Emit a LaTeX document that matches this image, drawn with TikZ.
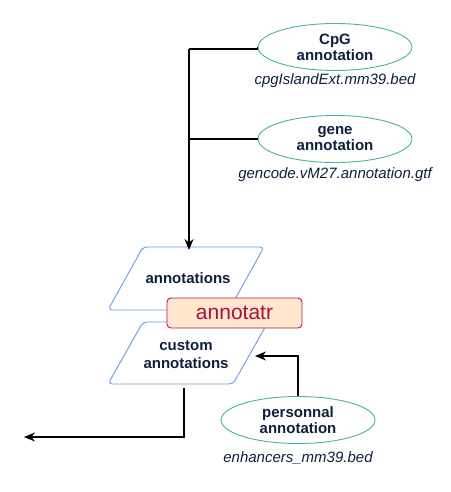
\documentclass[tikz,border=0pt]{standalone}
\usepackage{fontspec}
\setmainfont{Liberation Sans}
\usetikzlibrary{shapes.geometric,arrows.meta}
\definecolor{txt}{HTML}{0F1F3D}
\definecolor{teal}{HTML}{45B39C}
\definecolor{pblue}{HTML}{6A9BD8}
\definecolor{rfill}{HTML}{FFE6CC}
\definecolor{rdraw}{HTML}{B8184C}
\definecolor{rtext}{HTML}{A8103F}
\tikzset{
  ell/.style={ellipse,draw=teal,line width=0.9pt,minimum width=154pt,minimum height=47pt,inner sep=0pt,align=center,font=\fontsize{15}{16}\selectfont\bfseries,text=txt},
  fname/.style={font=\fontsize{15}{17}\selectfont\itshape,text=txt,inner sep=0pt},
  ptxt/.style={font=\fontsize{15}{18}\selectfont\bfseries,text=txt,align=center,inner sep=0pt},
  para/.style={draw=pblue,line width=0.9pt,rounded corners=4pt},
  conn/.style={line width=1.3pt,draw=black},
  arr/.style={conn,-{Stealth[length=11pt,width=9pt]}},
}
\begin{document}
\begin{tikzpicture}[x=1pt,y=-1pt]
\useasboundingbox (0,0) rectangle (450,492);
% ellipses
\node[ell] (cpg) at (335,47) {CpG\\annotation};
\node[fname] (cpgf) at (335,81) {cpgIslandExt.mm39.bed};
\node[ell] (gene) at (335,139) {gene\\annotation};
\node[fname] (genef) at (335,175) {gencode.vM27.annotation.gtf};
\node[ell] (pers) at (298,420) {personnal\\annotation};
\node[fname] (persf) at (298,458) {enhancers\_mm39.bed};
% parallelograms
\draw[para] (143,247) -- (264,247) -- (229,310) -- (108,310) -- cycle;
\node[ptxt] (ann) at (188,278) {annotations};
\draw[para] (143,322) -- (268,322) -- (233,384) -- (108,384) -- cycle;
\node[ptxt] (cust) at (186,355) {custom\\annotations};
\coordinate (annTop) at (189,247);
\coordinate (custR) at (255,356);
\coordinate (custB) at (184,388);
\coordinate (outL) at (24,437);
% annotatr box
\node[draw=rdraw,fill=rfill,line width=0.9pt,rounded corners=4pt,minimum width=135pt,minimum height=30pt,inner sep=0pt,text=rtext,font=\fontsize{21}{22}\selectfont] (annotatr) at (234.5,313) {annotatr};
% connectors
\coordinate (j1) at (189,49);
\coordinate (j2) at (189,139);
\draw[conn] (cpg.west) -- (j1 -| cpg.west) -- (j1);
\draw[conn] (gene.west) -- (j2);
\draw[arr] (j1) -- ([yshift=-3pt]annTop);
\draw[arr] (pers.north) |- (custR);
\draw[arr] (custB) |- (outL);
\end{tikzpicture}
\end{document}
